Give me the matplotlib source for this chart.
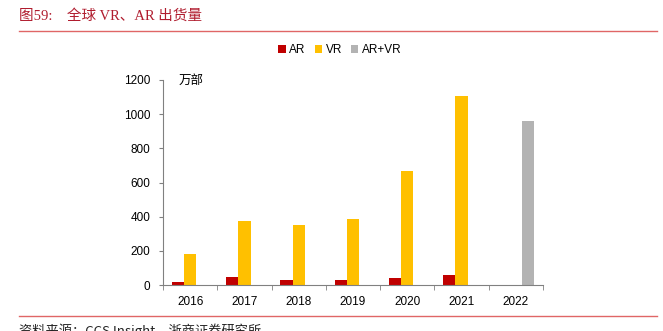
import matplotlib
matplotlib.use("Agg")
import matplotlib.pyplot as plt
import numpy as np

plt.rcParams['font.family'] = ['Liberation Sans', 'Noto Sans CJK SC', 'DejaVu Sans']

years = ['2016', '2017', '2018', '2019', '2020', '2021', '2022']
ar = [20, 45, 27, 29, 39, 57, np.nan]
vr = [180, 373, 350, 388, 667, 1108, np.nan]
ar_vr = [np.nan, np.nan, np.nan, np.nan, np.nan, np.nan, 958]
yticks = [0, 200, 400, 600, 800, 1000, 1200]

c_ar = '#c00000'
c_vr = '#ffc000'
c_all = '#b3b3b3'
c_line = '#e06666'
c_title = '#b01c2e'

fig = plt.figure(figsize=(6.63, 3.31), dpi=100)
ax = fig.add_axes([163/663, 1-285/331, (543-163)/663, (285-80)/331])

x = np.arange(len(years))
w = 0.225
ax.bar(x - w, ar, w, color=c_ar, label='AR')
ax.bar(x, vr, w, color=c_vr, label='VR')
ax.bar(x + w, ar_vr, w, color=c_all, label='AR+VR')

ax.set_xlim(-0.5, len(years) - 0.5)
ax.set_ylim(0, 1200)
ax.set_yticks(yticks)
ax.set_yticklabels([str(v) for v in yticks], fontsize=8.5)
ax.set_xticks(x)
ax.set_xticklabels(years, fontsize=8.5)
ax.set_xticks(np.arange(len(years) + 1) - 0.5, minor=True)
ax.tick_params(axis='x', which='major', length=0, pad=8)
ax.tick_params(axis='x', which='minor', length=3.5, color='#808080', direction='out')
ax.tick_params(axis='y', length=3, color='#808080', direction='out', pad=6)
for s in ['top', 'right']:
    ax.spines[s].set_visible(False)
for s in ['left', 'bottom']:
    ax.spines[s].set_color('#808080')
    ax.spines[s].set_linewidth(0.8)

ax.text(0.04, 1.0, '万部', transform=ax.transAxes, fontsize=9,
        family=['Noto Sans CJK SC', 'DejaVu Sans'], va='center', ha='left')

leg = fig.legend(loc='center', bbox_to_anchor=(340/663, 1-50/331), ncol=3, frameon=False,
                 fontsize=8.5, handlelength=0.6, handleheight=0.6, handletextpad=0.3,
                 columnspacing=0.8)

fig.text(19/663, 1-16/331, '图59:    全球 VR、AR 出货量', fontsize=10.5, color=c_title,
         family=['Liberation Serif', 'Noto Sans CJK SC', 'DejaVu Sans'], va='center', ha='left')
fig.add_artist(plt.Line2D([19/663, 657/663], [1-30.5/331, 1-30.5/331], color=c_line, lw=1))
fig.add_artist(plt.Line2D([19/663, 657/663], [1-316/331, 1-316/331], color=c_line, lw=1))
fig.text(19/663, 1-331/331, '资料来源：CCS Insight，浙商证券研究所', fontsize=9.5,
         family=['Noto Sans CJK SC', 'DejaVu Sans'], va='center', ha='left', color='#222222')

fig.savefig('out.png', dpi=100)
